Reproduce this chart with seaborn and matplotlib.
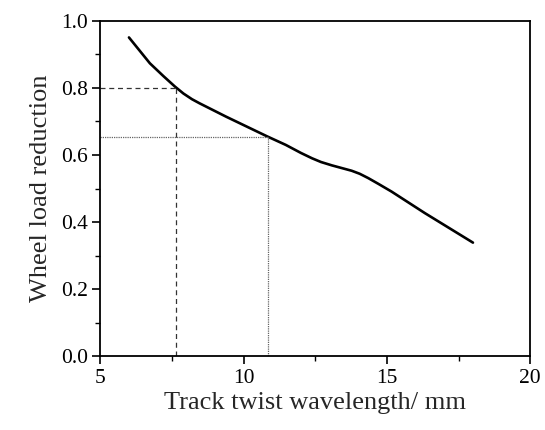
import matplotlib
matplotlib.use("Agg")
import matplotlib.pyplot as plt
from matplotlib.ticker import MultipleLocator
import seaborn as sns
import pandas as pd

wavelength = [6.0, 6.73, 7.2, 7.6, 7.9, 8.2, 8.46, 9.39, 10.0, 10.83, 11.47, 12.0, 12.39, 12.7, 13.08, 13.77, 14.05, 14.35, 14.7, 15.16, 16.32, 18.0]
reduction = [0.950, 0.873, 0.835, 0.804, 0.783, 0.766, 0.754, 0.714, 0.689, 0.655, 0.630, 0.606, 0.590, 0.579, 0.569, 0.553, 0.544, 0.531, 0.514, 0.491, 0.427, 0.339]

ref_x = [7.63, 10.84]
ref_y = [0.80, 0.653]

sns.set_style("ticks")
plt.rcParams['font.family'] = ['Liberation Serif', 'DejaVu Serif']

df = pd.DataFrame({"x": wavelength, "y": reduction})

fig = plt.figure(figsize=(5.45, 4.30), dpi=100)
ax = fig.add_axes([0.184, 0.171, 0.789, 0.781])

sns.lineplot(data=df, x="x", y="y", ax=ax, color="black", linewidth=1.9)

# reference lines
ax.plot([5, ref_x[0]], [ref_y[0], ref_y[0]], color="#333333", lw=0.9, ls=(0, (4, 3)))
ax.plot([ref_x[0], ref_x[0]], [0, ref_y[0]], color="#333333", lw=0.9, ls=(0, (4, 3)))
ax.plot([5, ref_x[1]], [ref_y[1], ref_y[1]], color="#666666", lw=0.9, ls=(0, (1, 0.8)))
ax.plot([ref_x[1], ref_x[1]], [0, ref_y[1]], color="#666666", lw=0.9, ls=(0, (1, 0.8)))

ax.set_xlim(5, 20)
ax.set_ylim(0, 1.0)
ax.xaxis.set_major_locator(MultipleLocator(5))
ax.xaxis.set_minor_locator(MultipleLocator(2.5))
ax.yaxis.set_major_locator(MultipleLocator(0.2))
ax.yaxis.set_minor_locator(MultipleLocator(0.1))
ax.xaxis.set_major_formatter(plt.FuncFormatter(lambda v, p: f"{int(v)}"))
ax.yaxis.set_major_formatter(plt.FuncFormatter(lambda v, p: f"{v:.1f}"))

for s in ax.spines.values():
    s.set_visible(True)
    s.set_linewidth(1.3)
    s.set_color("black")

ax.tick_params(which="major", direction="out", length=6, width=1.2, labelsize=15.5, colors="black", pad=3)
ax.tick_params(which="minor", direction="out", length=3.5, width=1.0, colors="black")

ax.set_xlabel("Track twist wavelength/ mm", fontsize=19, labelpad=3)
ax.set_ylabel("Wheel load reduction", fontsize=19, labelpad=6)

fig.savefig("out.png", dpi=100)
